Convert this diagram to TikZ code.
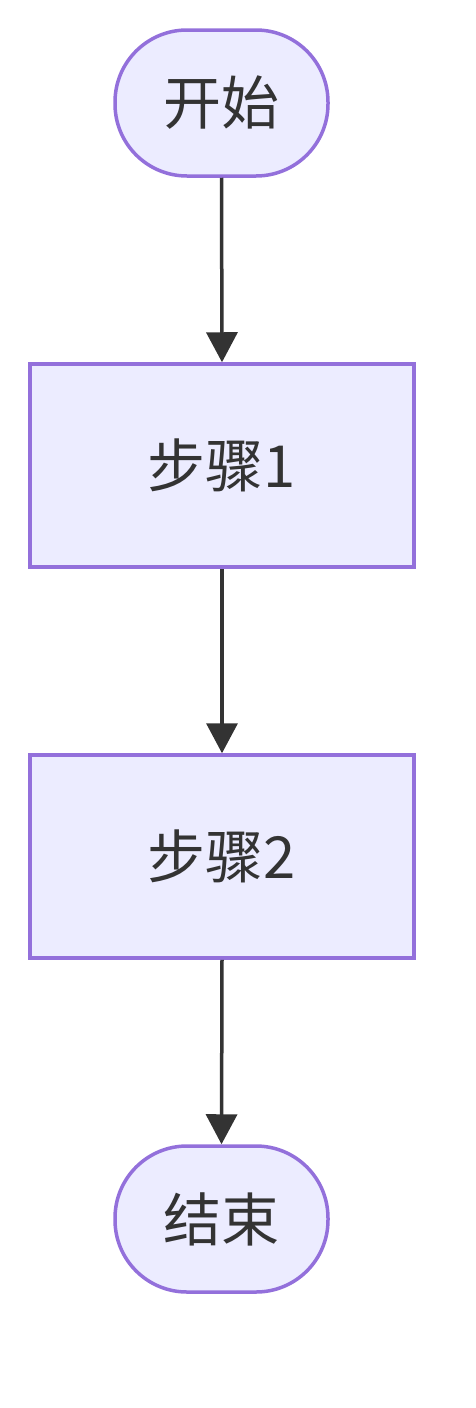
\documentclass[tikz,border=0pt]{standalone}
\usepackage{fontspec}
\newfontfamily\cjk{Noto Sans CJK SC}
\usetikzlibrary{arrows.meta}
\definecolor{nodefill}{HTML}{ECECFF}
\definecolor{nodeborder}{HTML}{9370DB}
\definecolor{ink}{HTML}{333333}
\begin{document}
\begin{tikzpicture}[x=1pt,y=1pt,
  base/.style={draw=nodeborder, fill=nodefill, line width=3.5pt, text=ink,
    font=\cjk\fontsize{58}{68}\selectfont, inner sep=0pt},
  terminal/.style={base, rectangle, rounded corners=72pt, minimum width=213pt, minimum height=146pt},
  stepbox/.style={base, rectangle, minimum width=384pt, minimum height=203pt},
  flow/.style={draw=ink, line width=3.5pt, -{Triangle[length=30pt,width=31pt]}}]
\useasboundingbox (0,0) rectangle (476,-1408);
\node[terminal] (start) at (221.5,-103) {\raisebox{2pt}{开始}};
\node[stepbox] (s1) at (222,-465.5) {\raisebox{2pt}{步骤1}};
\node[stepbox] (s2) at (222,-856.5) {\raisebox{2pt}{步骤2}};
\node[terminal] (end) at (221.5,-1219) {\raisebox{2pt}{结束}};
\draw[flow] (start.south) -- (s1.north);
\draw[flow] (s1.south) -- (s2.north);
\draw[flow] (s2.south) -- (end.north);
\end{tikzpicture}
\end{document}
